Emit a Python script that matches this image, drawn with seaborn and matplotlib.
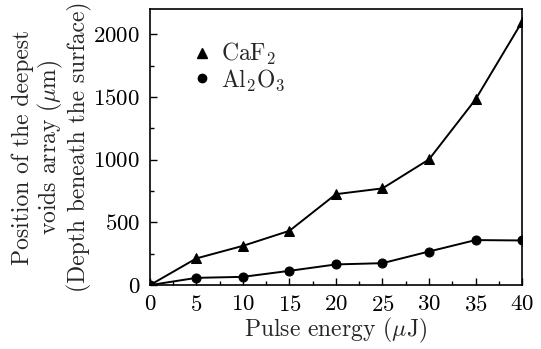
import numpy as np
import pandas as pd
import matplotlib
matplotlib.use("Agg")
import matplotlib.pyplot as plt
from matplotlib.lines import Line2D
from matplotlib.ticker import MultipleLocator
import seaborn as sns

energy = [0, 5, 10, 15, 20, 25, 30, 35, 40]
caf2 = [0, 213, 313, 433, 725, 771, 1002, 1480, 2099]
al2o3 = [0, 58, 66, 114, 165, 175, 268, 359, 356]
labels = ["CaF$_2$", "Al$_2$O$_3$"]

df = pd.DataFrame({
    "energy": energy * 2,
    "depth": caf2 + al2o3,
    "material": [labels[0]] * len(energy) + [labels[1]] * len(energy),
})

sns.set_style("ticks")
plt.rcParams["font.family"] = "serif"
plt.rcParams["font.serif"] = ["cmr10", "DejaVu Serif"]
plt.rcParams["mathtext.fontset"] = "cm"
plt.rcParams["axes.formatter.use_mathtext"] = True
plt.rcParams["font.size"] = 16.5

fig = plt.figure(figsize=(5.41, 3.49), dpi=100)
ax = fig.add_axes([0.277, 0.183, 0.688, 0.791])

sns.lineplot(data=df, x="energy", y="depth", hue="material", style="material",
             markers=["^", "o"], dashes=False, palette=["black", "black"],
             markersize=6.5, linewidth=1.4, markeredgecolor="black",
             legend=False, ax=ax)

ax.set_xlim(0, 40)
ax.set_ylim(0, 2200)
ax.xaxis.set_major_locator(MultipleLocator(5))
ax.xaxis.set_minor_locator(MultipleLocator(2.5))
ax.yaxis.set_major_locator(MultipleLocator(500))
ax.yaxis.set_minor_locator(MultipleLocator(250))
ax.tick_params(which="both", direction="in", colors="black", labelsize=16.5)
ax.tick_params(axis="x", which="major", length=5, width=1, pad=7)
ax.tick_params(axis="y", which="major", length=5, width=1, pad=7)
ax.tick_params(which="minor", length=3, width=1)
for s in ax.spines.values():
    s.set_linewidth(1.2)
    s.set_color("black")

ax.set_xlabel("Pulse energy ($\\mu$J)", fontsize=17, labelpad=1)
ax.set_ylabel("Position of the deepest\nvoids array ($\\mu$m)\n(Depth beneath the surface)",
              fontsize=17, linespacing=1.1)
ax.yaxis.set_label_coords(-0.155, 0.5)

handles = [Line2D([], [], marker="^", color="black", linestyle="none", markersize=7),
           Line2D([], [], marker="o", color="black", linestyle="none", markersize=6)]
ax.legend(handles, labels, loc="upper left", bbox_to_anchor=(0.045, 0.96),
          frameon=False, handletextpad=0.2, labelspacing=0.0, handlelength=1.2,
          fontsize=17)

fig.savefig("out.png", dpi=100)
